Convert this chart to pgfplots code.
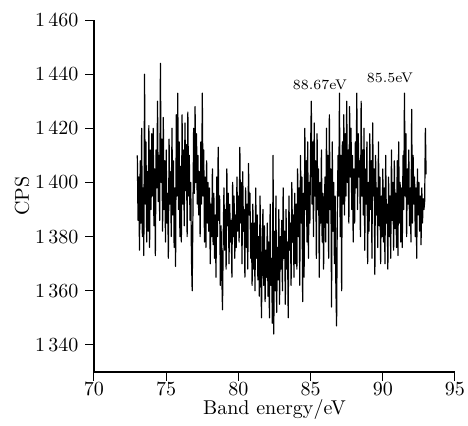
\documentclass[border=0pt]{standalone}
\usepackage{pgfplots}
\pgfplotsset{compat=1.18}
\begin{document}
\begin{tikzpicture}
\begin{axis}[
  scale only axis,
  width=180.5pt, height=176pt,
  xmin=70, xmax=95, ymin=1330, ymax=1460,
  xtick={70,75,80,85,90,95},
  ytick={1340,1360,1380,1400,1420,1440,1460},
  axis x line*=bottom, axis y line*=left,
  tick align=outside,
  tick style={black, line width=0.5pt},
  axis line style={line width=0.6pt},
  /pgf/number format/1000 sep={\,},
  xticklabel style={yshift=2.5pt},
  xlabel={Band energy/eV}, ylabel={CPS},
  xlabel style={yshift=5pt},
  ylabel style={yshift=-4pt},
  clip=false,
]
\addplot[black, line width=0.6pt, line join=round] coordinates {
(73.00,1410)(73.05,1386)(73.10,1402)(73.15,1375)(73.20,1408)(73.25,1385)(73.30,1420)(73.35,1380)(73.40,1398)(73.45,1373)(73.50,1440)(73.55,1392)(73.60,1415)(73.65,1378)(73.70,1404)(73.75,1382)(73.80,1421)(73.85,1376)(73.90,1412)(73.95,1390)
(74.00,1418)(74.05,1395)(74.10,1420)(74.15,1384)(74.20,1405)(74.25,1373)(74.30,1412)(74.35,1398)(74.40,1430)(74.45,1393)(74.50,1410)(74.55,1386)(74.60,1444)(74.65,1400)(74.70,1416)(74.75,1382)(74.80,1424)(74.85,1390)(74.90,1408)(74.95,1378)
(75.00,1412)(75.05,1385)(75.10,1396)(75.15,1372)(75.20,1416)(75.25,1392)(75.30,1404)(75.35,1380)(75.40,1420)(75.45,1388)(75.50,1408)(75.55,1376)(75.60,1398)(75.65,1369)(75.70,1425)(75.75,1395)(75.80,1433)(75.85,1390)(75.90,1415)(75.95,1380)
(76.00,1406)(76.05,1378)(76.10,1425)(76.15,1392)(76.20,1412)(76.25,1384)(76.30,1422)(76.35,1397)(76.40,1414)(76.45,1380)(76.50,1426)(76.55,1395)(76.60,1410)(76.65,1386)(76.70,1400)(76.75,1372)(76.80,1360)(76.85,1388)(76.90,1420)(76.95,1396)
(77.00,1428)(77.05,1400)(77.10,1418)(77.15,1392)(77.20,1410)(77.25,1388)(77.30,1404)(77.35,1380)(77.40,1415)(77.45,1392)(77.50,1433)(77.55,1395)(77.60,1412)(77.65,1378)(77.70,1402)(77.75,1376)(77.80,1408)(77.85,1385)(77.90,1400)(77.95,1382)
(78.00,1398)(78.05,1370)(78.10,1392)(78.15,1380)(78.20,1405)(78.25,1377)(78.30,1396)(78.35,1372)(78.40,1388)(78.45,1365)(78.50,1402)(78.55,1380)(78.60,1413)(78.65,1386)(78.70,1395)(78.75,1362)(78.80,1384)(78.85,1366)(78.90,1353)(78.95,1380)
(79.00,1398)(79.05,1375)(79.10,1390)(79.15,1368)(79.20,1405)(79.25,1384)(79.30,1396)(79.35,1370)(79.40,1392)(79.45,1378)(79.50,1386)(79.55,1365)(79.60,1400)(79.65,1380)(79.70,1395)(79.75,1372)(79.80,1388)(79.85,1376)(79.90,1402)(79.95,1382)
(80.00,1395)(80.05,1378)(80.10,1413)(80.15,1385)(80.20,1400)(80.25,1370)(80.30,1404)(80.35,1382)(80.40,1390)(80.45,1365)(80.50,1398)(80.55,1376)(80.60,1392)(80.65,1368)(80.70,1407)(80.75,1388)(80.80,1396)(80.85,1372)(80.90,1385)(80.95,1362)
(81.00,1392)(81.05,1368)(81.10,1385)(81.15,1360)(81.20,1398)(81.25,1372)(81.30,1388)(81.35,1364)(81.40,1380)(81.45,1358)(81.50,1395)(81.55,1370)(81.60,1350)(81.65,1378)(81.70,1390)(81.75,1362)(81.80,1384)(81.85,1356)(81.90,1375)(81.95,1365)
(82.00,1385)(82.05,1358)(82.10,1378)(82.15,1350)(82.20,1392)(82.25,1362)(82.30,1372)(82.35,1348)(82.40,1410)(82.45,1344)(82.50,1382)(82.55,1360)(82.60,1395)(82.65,1352)(82.70,1376)(82.75,1364)(82.80,1390)(82.85,1355)(82.90,1380)(82.95,1368)
(83.00,1386)(83.05,1360)(83.10,1398)(83.15,1372)(83.20,1382)(83.25,1355)(83.30,1390)(83.35,1368)(83.40,1378)(83.45,1350)(83.50,1395)(83.55,1375)(83.60,1385)(83.65,1362)(83.70,1400)(83.75,1378)(83.80,1388)(83.85,1365)(83.90,1396)(83.95,1370)
(84.00,1392)(84.05,1368)(84.10,1405)(84.15,1380)(84.20,1398)(84.25,1362)(84.30,1410)(84.35,1385)(84.40,1402)(84.45,1356)(84.50,1396)(84.55,1365)(84.60,1420)(84.65,1390)(84.70,1408)(84.75,1378)(84.80,1415)(84.85,1372)(84.90,1400)(84.95,1385)
(85.00,1412)(85.05,1430)(85.10,1392)(85.15,1415)(85.20,1380)(85.25,1422)(85.30,1395)(85.35,1408)(85.40,1372)(85.45,1418)(85.50,1390)(85.55,1405)(85.60,1365)(85.65,1400)(85.70,1385)(85.75,1412)(85.80,1378)(85.85,1396)(85.90,1368)(85.95,1392)
(86.00,1402)(86.05,1378)(86.10,1420)(86.15,1385)(86.20,1410)(86.25,1372)(86.30,1425)(86.35,1390)(86.40,1405)(86.45,1354)(86.50,1415)(86.55,1382)(86.60,1400)(86.65,1370)(86.70,1395)(86.75,1362)(86.80,1347)(86.85,1388)(86.90,1410)(86.95,1395)
(87.00,1433)(87.05,1380)(87.10,1410)(87.15,1360)(87.20,1415)(87.25,1392)(87.30,1425)(87.35,1388)(87.40,1418)(87.45,1395)(87.50,1430)(87.55,1400)(87.60,1412)(87.65,1385)(87.70,1428)(87.75,1402)(87.80,1420)(87.85,1390)(87.90,1410)(87.95,1378)
(88.00,1405)(88.05,1385)(88.10,1415)(88.15,1398)(88.20,1433)(88.25,1390)(88.30,1418)(88.35,1402)(88.40,1408)(88.45,1380)(88.50,1430)(88.55,1395)(88.60,1412)(88.65,1388)(88.70,1420)(88.75,1375)(88.80,1405)(88.85,1392)(88.90,1415)(88.95,1370)
(89.00,1400)(89.05,1382)(89.10,1418)(89.15,1390)(89.20,1408)(89.25,1372)(89.30,1422)(89.35,1395)(89.40,1405)(89.45,1366)(89.50,1410)(89.55,1388)(89.60,1398)(89.65,1376)(89.70,1415)(89.75,1384)(89.80,1402)(89.85,1370)(89.90,1395)(89.95,1380)
(90.00,1405)(90.05,1378)(90.10,1398)(90.15,1370)(90.20,1410)(90.25,1385)(90.30,1392)(90.35,1368)(90.40,1402)(90.45,1380)(90.50,1395)(90.55,1372)(90.60,1412)(90.65,1386)(90.70,1400)(90.75,1375)(90.80,1408)(90.85,1383)(90.90,1396)(90.95,1376)
(91.00,1408)(91.05,1373)(91.10,1415)(91.15,1385)(91.20,1400)(91.25,1378)(91.30,1398)(91.35,1376)(91.40,1410)(91.45,1390)(91.50,1433)(91.55,1395)(91.60,1418)(91.65,1380)(91.70,1405)(91.75,1392)(91.80,1412)(91.85,1384)(91.90,1398)(91.95,1378)
(92.00,1427)(92.05,1385)(92.10,1410)(92.15,1392)(92.20,1402)(92.25,1380)(92.30,1398)(92.35,1372)(92.40,1405)(92.45,1388)(92.50,1400)(92.55,1382)(92.60,1395)(92.65,1377)(92.70,1398)(92.75,1385)(92.80,1394)(92.85,1390)(92.90,1393)(92.95,1420)
(93.00,1403)
};
\node[font=\scriptsize] at (axis cs:85.65,1436) {88.67eV};
\node[font=\scriptsize] at (axis cs:90.5,1438.5) {85.5eV};
\end{axis}
\pgfresetboundingbox
\path (current axis.south west) ++(-47pt,-26.5pt) rectangle ++(234pt,212.5pt);
\end{tikzpicture}
\end{document}
